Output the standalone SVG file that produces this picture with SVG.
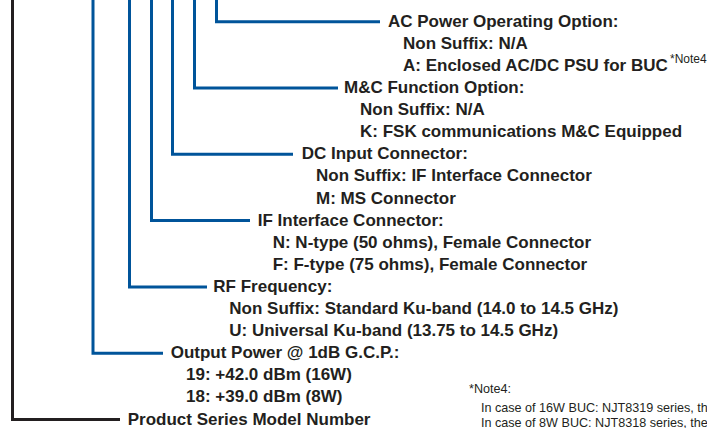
<svg xmlns="http://www.w3.org/2000/svg" width="707" height="428" viewBox="0 0 707 428">
<style>
.t{font-family:"Liberation Sans",Arial,sans-serif;font-weight:bold;font-size:17px;fill:#231f20}
.n{font-family:"Liberation Sans",Arial,sans-serif;font-size:12.6px;fill:#231f20}
.s{font-family:"Liberation Sans",Arial,sans-serif;font-size:12px;fill:#231f20}
.b{fill:none;stroke:#00549a;stroke-width:3}
.k{fill:none;stroke:#231f20;stroke-width:3}
</style>
<rect width="707" height="428" fill="#fff"/>
<g id="connectors">
<path class="k" d="M12.5 0V419.5H120"/>
<path class="b" d="M93 0V353.2H163"/>
<path class="b" d="M129.5 0V286.9H207"/>
<path class="b" d="M151.5 0V220.6H250"/>
<path class="b" d="M172.5 0V154.3H293"/>
<path class="b" d="M194.5 0V88H338"/>
<path class="b" d="M216.5 0V21.7H380"/>
</g>
<g id="ac-power">
<text class="t" x="388" y="26.7">AC Power Operating Option:</text>
<text class="t" x="403" y="48.8">Non Suffix: N/A</text>
<text class="t" x="403" y="70.9">A: Enclosed AC/DC PSU for BUC</text>
<text class="s" x="670" y="63">*Note4</text>
</g>
<g id="mc-function">
<text class="t" x="344" y="93">M&amp;C Function Option:</text>
<text class="t" x="360" y="115.1">Non Suffix: N/A</text>
<text class="t" x="360" y="137.2">K: FSK communications M&amp;C Equipped</text>
</g>
<g id="dc-input">
<text class="t" x="301.7" y="159.3">DC Input Connector:</text>
<text class="t" x="316" y="181.4">Non Suffix: IF Interface Connector</text>
<text class="t" x="316" y="203.5">M: MS Connector</text>
</g>
<g id="if-interface">
<text class="t" x="257.7" y="225.6">IF Interface Connector:</text>
<text class="t" x="272.7" y="247.7">N: N-type (50 ohms), Female Connector</text>
<text class="t" x="272.7" y="269.8">F: F-type (75 ohms), Female Connector</text>
</g>
<g id="rf-frequency">
<text class="t" x="213.3" y="291.9">RF Frequency:</text>
<text class="t" x="229.3" y="314">Non Suffix: Standard Ku-band (14.0 to 14.5 GHz)</text>
<text class="t" x="229.3" y="336.1">U: Universal Ku-band (13.75 to 14.5 GHz)</text>
</g>
<g id="output-power">
<text class="t" x="170.7" y="358.2">Output Power @ 1dB G.C.P.:</text>
<text class="t" x="186" y="380.3">19: +42.0 dBm (16W)</text>
<text class="t" x="186" y="402.4">18: +39.0 dBm (8W)</text>
</g>
<g id="product-series">
<text class="t" x="127.7" y="424.5">Product Series Model Number</text>
</g>
<g id="note4">
<text class="n" x="469" y="393">*Note4:</text>
<text class="n" x="481" y="411.5">In case of 16W BUC: NJT8319 series, the</text>
<text class="n" x="481" y="426.5">In case of 8W BUC: NJT8318 series, the</text>
</g>
</svg>
